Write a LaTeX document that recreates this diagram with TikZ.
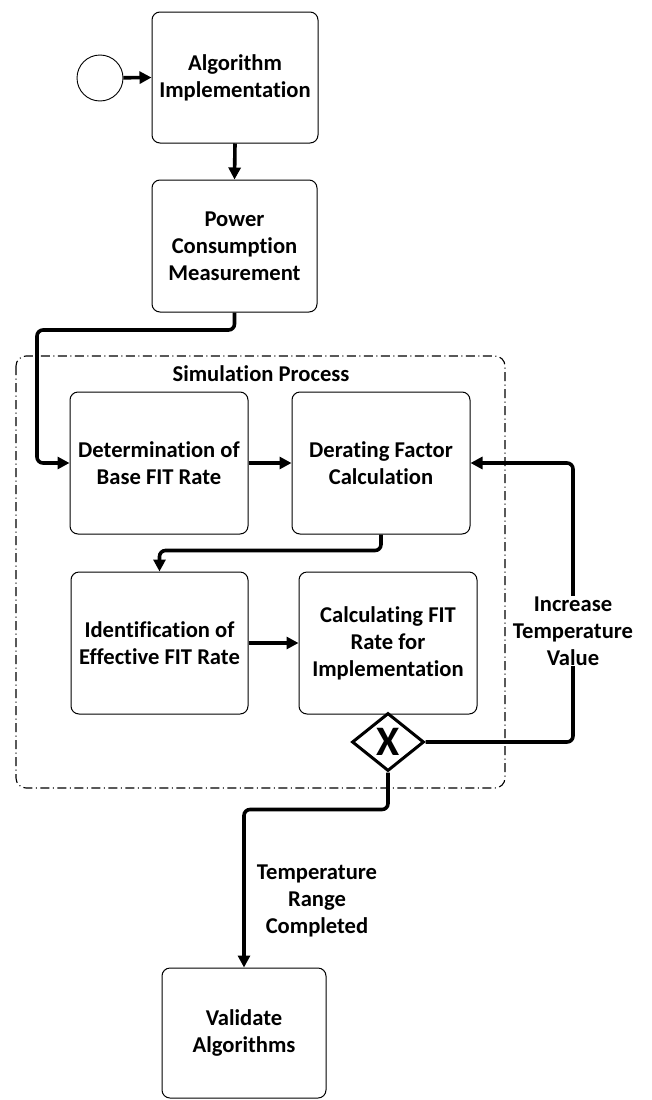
\documentclass[tikz,border=0pt]{standalone}
\usepackage{fontspec}
\setmainfont[Ligatures=NoCommon]{Carlito}
\usetikzlibrary{shapes.geometric,arrows.meta}
\begin{document}
\begin{tikzpicture}[x=1pt,y=1pt,
  task/.style={draw, line width=1pt, rounded corners=8pt, align=center, inner sep=0pt,
    font=\fontsize{22.6}{27}\selectfont\bfseries},
  flow/.style={line width=3.6pt, rounded corners=6pt, -{Triangle[length=12pt,width=12pt]}},
  lbl/.style={align=center, fill=white, inner sep=1pt, font=\fontsize{22.6}{27}\selectfont\bfseries},
  group/.style={draw, line width=1.1pt, rounded corners=10pt, dash pattern=on 9pt off 3.5pt on 1pt off 3.5pt}
]
\useasboundingbox (0,0) rectangle (652,-1100);
\fill[white] (0,0) rectangle (652,-1100);

% group container
\draw[group] (16,-356) rectangle (505,-788);
\node[font=\fontsize{22.6}{27}\selectfont\bfseries] (simtitle) at (261,-374) {Simulation Process};

% start event
\node[draw, circle, line width=0.9pt, minimum size=46pt, inner sep=0pt] (start) at (100,-78) {};

% tasks
\node[task, minimum width=166pt, minimum height=131pt] (b1) at (235,-77.5) {Algorithm\\Implementation};
\node[task, minimum width=165pt, minimum height=132pt] (b2) at (234.5,-246) {Power\\Consumption\\Measurement};
\node[task, minimum width=178pt, minimum height=142pt] (b3) at (159,-463) {Determination of\\Base FIT Rate};
\node[task, minimum width=178pt, minimum height=142pt] (b4) at (381,-463) {Derating Factor\\Calculation};
\node[task, minimum width=177pt, minimum height=142pt] (b5) at (159.5,-643) {Identification of\\Effective FIT Rate};
\node[task, minimum width=178pt, minimum height=142pt] (b6) at (388,-643) {Calculating FIT\\Rate for\\Implementation};
\node[task, minimum width=164pt, minimum height=130pt] (val) at (244,-1033) {Validate\\Algorithms};

% gateway
\node[draw, diamond, line width=3pt, minimum width=72pt, minimum height=58pt, inner sep=0pt,
  font=\fontsize{42}{42}\selectfont\bfseries] (gw) at (388,-742) {X};

% connectors
\draw[flow] (start) -- (b1.west);
\draw[flow] (b1.south) -- (b2.north);
\coordinate (c1) at (37,-330);
\draw[flow] (b2.south) |- (c1) |- (b3.west);
\draw[flow] (b3.east) -- (b4.west);
\draw[flow] (b4.south) -- ++(0,-16) -| (b5.north);
\draw[flow] (b5.east) -- (b6.west);
\coordinate (loopc) at (573,-463);
\draw[flow] (gw.east) -| (loopc) -- (b4.east);
\node[lbl] (inc) at (573,-631) {Increase\\Temperature\\Value};
\draw[flow] (gw.south) -- ++(0,-37) -| (val.north);
\node[lbl, fill=none] (done) at (317,-901) {Temperature\\Range\\Completed};
\end{tikzpicture}
\end{document}
